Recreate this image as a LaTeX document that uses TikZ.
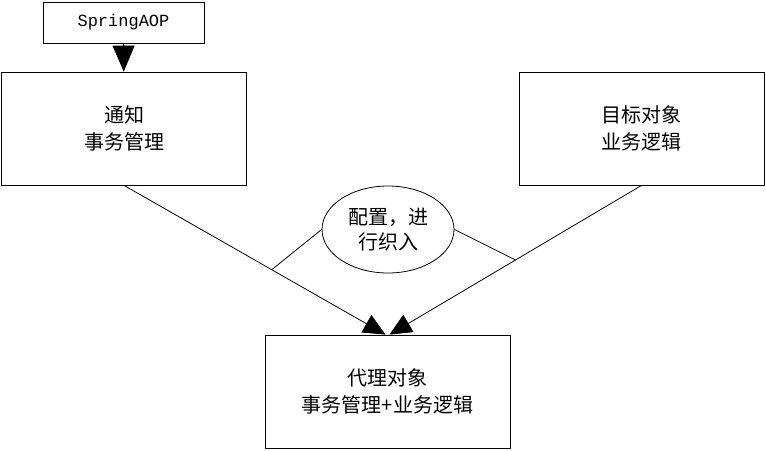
\documentclass[tikz,border=0pt]{standalone}
\usepackage{fontspec}
\setmainfont{Noto Sans CJK SC}
\newfontfamily\latinmono{Liberation Mono}
\usetikzlibrary{positioning, arrows.meta, calc, shapes.geometric}

\begin{document}
\begin{tikzpicture}[x=1pt, y=-1pt, line width=0.8pt, >={Triangle[length=22pt, width=20pt]},
        box/.style={draw, rectangle, minimum width=245pt, minimum height=113pt, align=center,
          font=\fontsize{20}{27}\selectfont}]
      \useasboundingbox (0,0) rectangle (766,450);
      \node[draw, rectangle, minimum width=161pt, minimum height=41pt,
        font=\latinmono\fontsize{17}{20}\selectfont] (aop) at (123.5,22.5) {SpringAOP};
      \node[box] (advice) at (124,128.5) {通知\\事务管理};
      \node[box] (target) at (641.5,128.5) {目标对象\\业务逻辑};
      \node[box] (proxy) at (387.5,391.5) {代理对象\\事务管理+业务逻辑};
      \node[draw, ellipse, minimum width=132pt, minimum height=87pt, inner sep=0pt, align=center,
        font=\fontsize{20}{25}\selectfont] (weave) at (388,229.5) {配置，进\\行织入};
      \coordinate (tipl) at ($(proxy.north)+(-2,0)$);
      \coordinate (tipr) at ($(proxy.north)+(2,0)$);
      \coordinate (jl) at ($(advice.south)!0.565!(tipl)$);
      \coordinate (jr) at ($(target.south)!0.5!(tipr)$);
      \draw[->, >={Triangle[length=26pt, width=22pt]}] (aop) -- (advice);
      \draw[->] (advice.south) -- (tipl);
      \draw[->] (target.south) -- (tipr);
      \draw (weave.west) -- (jl);
      \draw (weave.east) -- (jr);
    \end{tikzpicture}
\end{document}
